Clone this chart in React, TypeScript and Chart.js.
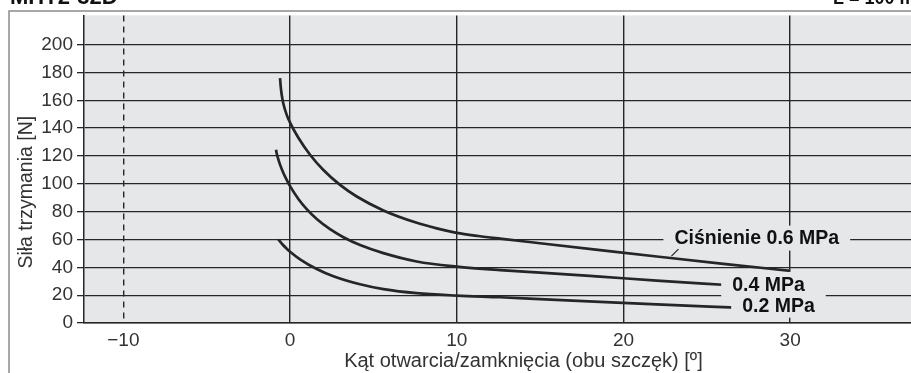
import React, { useEffect, useRef } from 'react';
import { Chart, registerables } from 'chart.js';

Chart.register(...registerables);

// ---- data ----
const angle06 = [-0.6, -0.56, -0.5, -0.4, -0.2, 0, 0.5, 1.2, 2.0, 3.0, 4.0, 5.6, 7.6, 8.8, 10, 11.3, 12.6, 15, 18.6, 22, 26, 30];
const force06 = [176, 170, 164, 157.5, 149.5, 144, 133.1, 120.9, 109.9, 99.2, 90.9, 80.9, 72.0, 68.0, 64.8, 62.5, 60.6, 57.3, 52.4, 47.8, 42.5, 37.5];

const angle04 = [-0.84, -0.8, -0.72, -0.6, -0.4, -0.2, 0, 0.5, 1.0, 1.6, 2.4, 3.2, 4.2, 5.6, 7.6, 10, 12.6, 15, 18.6, 22, 26.2];
const force04 = [124.5, 121.8, 118.3, 113.8, 107.8, 102.8, 98.3, 89.1, 81.8, 74.7, 67.4, 61.6, 56.0, 50.2, 44.2, 40.5, 38.0, 36.2, 33.3, 30.5, 27.3];

const angle02 = [-0.7, -0.45, -0.2, 0, 0.6, 1.6, 2.6, 4.2, 5.6, 7.6, 10, 12.6, 15, 18.6, 22, 26.8];
const force02 = [60, 56.4, 53.4, 51.2, 45.8, 38.8, 33.6, 27.8, 24.3, 21.4, 19.7, 18.5, 17.2, 15.2, 13.4, 11];

const curveLabels = ['Ciśnienie 0.6 MPa', '0.4 MPa', '0.2 MPa'];
const curveLabelX = [28.0, 28.7, 29.3];
const curveLabelY = [61, 27.7, 12.8];

const xTickValues = [-10, 0, 10, 20, 30];
const yTickValues = [0, 20, 40, 60, 80, 100, 120, 140, 160, 180, 200];

const chartTitle = 'MHT2-32D';
const chartSubtitle = 'L = 100 mm';
const xAxisTitle = 'Kąt otwarcia/zamknięcia (obu szczęk) [º]';
const yAxisTitle = 'Siła trzymania [N]';

const X_MIN = -12.36;
const X_MAX = 37.25;
const Y_MIN = 0;
const Y_MAX = 221;

const FONT = "'Liberation Sans', Arial, Helvetica, sans-serif";
const PLOT_BG = '#e6e7e9';
const INK = '#262626';
const TEXT = '#333333';

export default function App() {
  const ref = useRef<HTMLCanvasElement>(null);

  useEffect(() => {
    const canvas = ref.current;
    if (!canvas) return;
    const toPts = (xs: number[], ys: number[]) => xs.map((x, i) => ({ x, y: ys[i] }));

    const bgPlugin = {
      id: 'plotBg',
      beforeDraw(chart: any) {
        const { ctx, chartArea } = chart;
        const { left, top, right, bottom } = chartArea;
        ctx.save();
        ctx.fillStyle = PLOT_BG;
        ctx.fillRect(left, top, right - left, bottom - top);
        ctx.restore();
      },
    };

    const labelPlugin = {
      id: 'curveLabels',
      afterDatasetsDraw(chart: any) {
        const { ctx } = chart;
        const xs = chart.scales.x;
        const ys = chart.scales.y;
        ctx.save();
        ctx.font = `bold 19.5px ${FONT}`;
        ctx.textAlign = 'center';
        ctx.textBaseline = 'middle';
        curveLabels.forEach((txt, i) => {
          const cx = xs.getPixelForValue(curveLabelX[i]);
          const cy = ys.getPixelForValue(curveLabelY[i]);
          const tw = ctx.measureText(txt).width;
          const w = tw + 22;
          const h = 25;
          ctx.fillStyle = PLOT_BG;
          ctx.fillRect(cx - w / 2, cy - h / 2, w, h);
          ctx.fillStyle = '#111111';
          ctx.fillText(txt, cx, cy + 1);
          if (i === 0) {
            // short leader from the label to its curve
            ctx.strokeStyle = INK;
            ctx.lineWidth = 1.2;
            ctx.beginPath();
            ctx.moveTo(cx - tw / 2 + 4, cy + 11);
            ctx.lineTo(cx - tw / 2 - 3, cy + 18);
            ctx.stroke();
          }
        });
        ctx.restore();
      },
    };

    const decorPlugin = {
      id: 'decor',
      afterDraw(chart: any) {
        const { ctx } = chart;
        const xs = chart.scales.x;
        const ys = chart.scales.y;
        ctx.save();
        // outer frame
        ctx.strokeStyle = '#8c8c8c';
        ctx.lineWidth = 1.5;
        ctx.beginPath();
        ctx.moveTo(911, 11);
        ctx.lineTo(9, 11);
        ctx.lineTo(9, 373);
        ctx.stroke();
        // titles (cut off at top)
        ctx.fillStyle = '#111111';
        ctx.textAlign = 'left';
        ctx.textBaseline = 'alphabetic';
        ctx.font = `bold 22px ${FONT}`;
        ctx.fillText(chartTitle, 10, 4);
        ctx.font = `bold 18px ${FONT}`;
        ctx.fillText(chartSubtitle, 833, 4);
        // axis titles
        ctx.fillStyle = TEXT;
        ctx.textAlign = 'center';
        ctx.textBaseline = 'middle';
        ctx.font = `20px ${FONT}`;
        ctx.fillText(xAxisTitle, xs.getPixelForValue(14.0), 361);
        ctx.font = `19.5px ${FONT}`;
        ctx.translate(27, ys.getPixelForValue(94));
        ctx.rotate(-Math.PI / 2);
        ctx.fillText(yAxisTitle, 0, 0);
        ctx.restore();
      },
    };

    const lineStyle = {
      borderColor: INK,
      borderWidth: 2.7,
      pointRadius: 0,
      fill: false,
      cubicInterpolationMode: 'monotone' as const,
    };

    const chart = new Chart(canvas, {
      type: 'line',
      data: {
        datasets: [
          { label: curveLabels[0], data: toPts(angle06, force06), ...lineStyle },
          { label: curveLabels[1], data: toPts(angle04, force04), ...lineStyle },
          { label: curveLabels[2], data: toPts(angle02, force02), ...lineStyle },
        ],
      },
      options: {
        responsive: false,
        animation: false,
        devicePixelRatio: 1,
        layout: { padding: { top: 12, left: 0, right: 0, bottom: 0 } },
        plugins: { legend: { display: false }, tooltip: { enabled: false }, title: { display: false } },
        scales: {
          x: {
            type: 'linear',
            min: X_MIN,
            max: X_MAX,
            afterFit: (s: any) => { s.height = 50; },
            afterBuildTicks: (s: any) => { s.ticks = xTickValues.map((v) => ({ value: v })); },
            ticks: {
              callback: (v: any) => (Number(v) < 0 ? '\u2212' + Math.abs(Number(v)) : String(v)),
              font: { family: FONT, size: 19 },
              color: TEXT,
              padding: 6,
              maxRotation: 0,
              autoSkip: false,
            },
            grid: { color: INK, lineWidth: 1.4, drawTicks: false },
            border: {
              display: true,
              color: INK,
              width: 1.4,
              dash: (c: any) => (c.tick && c.tick.value === -10 ? [6, 5] : []),
            },
          },
          y: {
            type: 'linear',
            min: Y_MIN,
            max: Y_MAX,
            afterFit: (s: any) => { s.width = 84; },
            afterBuildTicks: (s: any) => { s.ticks = yTickValues.map((v) => ({ value: v })); },
            ticks: {
              font: { family: FONT, size: 19 },
              color: TEXT,
              padding: 4,
              autoSkip: false,
            },
            grid: { color: INK, lineWidth: 1.3, tickLength: 7, drawTicks: true, tickColor: INK },
            border: { display: true, color: INK, width: 1.5 },
          },
        },
      } as any,
      plugins: [bgPlugin, labelPlugin, decorPlugin],
    });

    return () => chart.destroy();
  }, []);

  return (
    <div style={{ position: 'absolute', left: 0, top: 0, width: 911, height: 373, background: '#ffffff' }}>
      <canvas ref={ref} width={911} height={373} style={{ display: 'block', width: 911, height: 373 }} />
    </div>
  );
}
